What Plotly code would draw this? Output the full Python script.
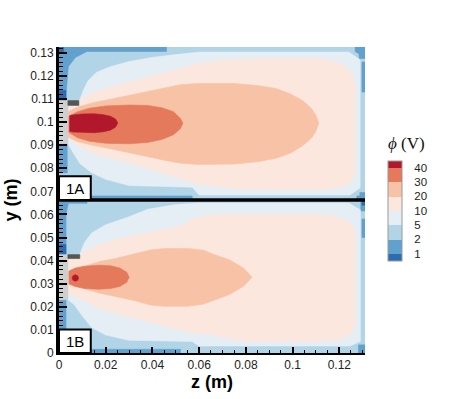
import plotly.graph_objects as go

# ---------------- data ----------------
LEVEL_LABELS = ["1", "2", "5", "10", "20", "30", "40"]
LEVEL_COLORS = ["#2a6db0", "#62a0cd", "#b2d4e7", "#e5eef5",
                "#fbe7dd", "#f8c2a6", "#e4795b", "#b2182b"]

X_TICKS = [0, 0.02, 0.04, 0.06, 0.08, 0.1, 0.12]
X_TICK_LABELS = ["0", "0.02", "0.04", "0.06", "0.08", "0.1", "0.12"]
Y_TICKS = [0, 0.01, 0.02, 0.03, 0.04, 0.05, 0.06, 0.07, 0.08, 0.09, 0.1, 0.11, 0.12, 0.13]
Y_TICK_LABELS = ["0", "0.01", "0.02", "0.03", "0.04", "0.05", "0.06", "0.07",
                 "0.08", "0.09", "0.1", "0.11", "0.12", "0.13"]

Z_MAX = 0.131
Y_MAX = 0.1325
PANEL_SPLIT = 0.0663

# ---- panel 1A : contour regions (z, y) ----
A_PHI_LT2 = [  # medium blue patches (1-2 V)
    [(0, 0.1325), (0.046, 0.1325), (0.046, 0.1306), (0.012, 0.1306), (0.007, 0.128),
     (0.004, 0.124), (0.003, 0.112), (0.003, 0.1093), (0, 0.1093)],
    [(0, 0.0906), (0.0035, 0.0906), (0.0035, 0.078), (0, 0.078)],
    [(0, 0.0663), (0.057, 0.0663), (0.057, 0.068), (0, 0.068)],
    [(0.1268, 0.1325), (0.131, 0.1325), (0.131, 0.1275), (0.1285, 0.1275), (0.1285, 0.1295), (0.1268, 0.1305)],
    [(0.1297, 0.126), (0.131, 0.126), (0.131, 0.113), (0.1297, 0.113)],
    [(0.1275, 0.0663), (0.131, 0.0663), (0.131, 0.0695), (0.1288, 0.0695), (0.1288, 0.068), (0.1275, 0.068)],
]
A_PHI_LT1 = [  # dark blue patches (<1 V)
    [(0, 0.1093), (0.003, 0.1093), (0.003, 0.1137), (0, 0.1137)],
    [(0, 0.1325), (0.002, 0.1325), (0.002, 0.1305), (0, 0.1305)],
    [(0.0085, 0.1072), (0.0095, 0.1072), (0.0095, 0.1093), (0.0085, 0.1093)],
]
A_PHI_GE5 = [(0.0038, 0.0906), (0.0038, 0.1072), (0.0085, 0.1072), (0.0088, 0.1093), (0.0105, 0.114),
             (0.0125, 0.118), (0.016, 0.1215), (0.022, 0.124), (0.03, 0.1262), (0.04, 0.128),
             (0.05, 0.1292), (0.06, 0.1303), (0.124, 0.1303), (0.1289, 0.127), (0.1289, 0.0715),
             (0.1245, 0.0684), (0.06, 0.0684), (0.057, 0.0718), (0.03, 0.0725), (0.02, 0.0752),
             (0.014, 0.078), (0.009, 0.082), (0.0065, 0.086)]
A_PHI_GE10 = [(0.0038, 0.094), (0.0038, 0.1055), (0.006, 0.108), (0.0096, 0.110), (0.0153, 0.113),
              (0.0267, 0.1166), (0.041, 0.1202), (0.0516, 0.123), (0.06, 0.1255), (0.075, 0.1272),
              (0.095, 0.1276), (0.11, 0.1275), (0.117, 0.1265), (0.122, 0.1245), (0.1255, 0.121),
              (0.1267, 0.116), (0.1267, 0.078), (0.1255, 0.0745), (0.122, 0.0722), (0.117, 0.0712),
              (0.11, 0.0708), (0.095, 0.0708), (0.075, 0.0712), (0.06, 0.073), (0.0516, 0.0755),
              (0.041, 0.079), (0.0267, 0.0833), (0.0153, 0.0862), (0.0096, 0.0891), (0.006, 0.0915)]
A_PHI_GE20 = [(0.0038, 0.0935), (0.0038, 0.1045), (0.008, 0.1065), (0.015, 0.1085), (0.025, 0.1105),
              (0.035, 0.1125), (0.045, 0.1148), (0.052, 0.1162), (0.06, 0.1167), (0.075, 0.1167),
              (0.085, 0.1158), (0.093, 0.1145), (0.099, 0.1122), (0.104, 0.1095), (0.108, 0.106),
              (0.110, 0.103), (0.1112, 0.0995), (0.110, 0.096), (0.108, 0.093), (0.104, 0.0895),
              (0.099, 0.0865), (0.093, 0.0843), (0.085, 0.0828), (0.075, 0.0818), (0.06, 0.0816),
              (0.052, 0.0822), (0.045, 0.0835), (0.035, 0.0858), (0.025, 0.0878), (0.015, 0.0898),
              (0.008, 0.0915)]
A_PHI_GE30 = [(0.0042, 0.0955), (0.0042, 0.1025), (0.008, 0.1045), (0.013, 0.106), (0.02, 0.107),
              (0.03, 0.1074), (0.038, 0.1072), (0.044, 0.1062), (0.049, 0.1045), (0.052, 0.1015),
              (0.053, 0.0995), (0.052, 0.0972), (0.049, 0.0945), (0.044, 0.0925), (0.038, 0.0912),
              (0.03, 0.0906), (0.02, 0.0908), (0.013, 0.0917), (0.008, 0.0932)]
A_PHI_GE40 = [(0.0046, 0.0960), (0.0046, 0.1028), (0.006, 0.1031), (0.01, 0.1035), (0.015, 0.1036),
              (0.019, 0.1032), (0.022, 0.1025), (0.0242, 0.1013), (0.0252, 0.0996), (0.0242, 0.0978),
              (0.022, 0.0965), (0.019, 0.0958), (0.015, 0.0954), (0.01, 0.0954), (0.006, 0.0957)]
A_ELECTRODE = [(0, 0.0906), (0.0038, 0.0906), (0.0038, 0.1093), (0, 0.1093)]
A_BAR = [(0.0038, 0.1072), (0.0085, 0.1072), (0.0085, 0.1093), (0.0038, 0.1093)]

# ---- panel 1B : contour regions (z, y) ----
B_PHI_LT2 = [
    [(0, 0.0663), (0.012, 0.0663), (0.012, 0.0648), (0.004, 0.0648), (0.003, 0.06),
     (0.003, 0.0426), (0, 0.0426)],
    [(0, 0.0231), (0.003, 0.0231), (0.003, 0.0103), (0, 0.0103)],
    [(0.0136, 0), (0.052, 0), (0.052, 0.0016), (0.0136, 0.0016)],
    [(0.1292, 0.0663), (0.131, 0.0663), (0.131, 0.0615), (0.1292, 0.0615)],
    [(0.1297, 0.058), (0.131, 0.058), (0.131, 0.05), (0.1297, 0.05)],
    [(0.1282, 0), (0.131, 0), (0.131, 0.0035), (0.1282, 0.0035)],
]
B_PHI_LT1 = [
    [(0, 0.0426), (0.003, 0.0426), (0.003, 0.047), (0, 0.047)],
    [(0.0089, 0.0409), (0.0098, 0.0409), (0.0098, 0.0426), (0.0089, 0.0426)],
    [(0.1297, 0.0663), (0.131, 0.0663), (0.131, 0.064), (0.1297, 0.064)],
]
B_PHI_GE5 = [(0.0038, 0.0231), (0.0038, 0.0409), (0.0089, 0.0409), (0.0092, 0.0435), (0.011, 0.048),
             (0.014, 0.052), (0.02, 0.0555), (0.03, 0.059), (0.038, 0.0622), (0.05, 0.0643),
             (0.06, 0.0649), (0.124, 0.0649), (0.129, 0.062), (0.129, 0.005), (0.1245, 0.003),
             (0.06, 0.003), (0.057, 0.005), (0.03, 0.0055), (0.02, 0.0078), (0.014, 0.011),
             (0.010, 0.016), (0.0065, 0.021)]
B_PHI_GE10 = [(0.0038, 0.0253), (0.0038, 0.0405), (0.006, 0.0412), (0.011, 0.044), (0.0167, 0.0469),
              (0.0267, 0.0498), (0.041, 0.0527), (0.0516, 0.0549), (0.058, 0.0585), (0.066, 0.0599),
              (0.08, 0.0601), (0.11, 0.0601), (0.1175, 0.0595), (0.122, 0.058), (0.1255, 0.0555),
              (0.1267, 0.052), (0.1267, 0.0125), (0.1255, 0.009), (0.122, 0.0065), (0.1175, 0.0053),
              (0.11, 0.0051), (0.08, 0.0051), (0.072, 0.0065), (0.066, 0.0079), (0.058, 0.0085),
              (0.0516, 0.0101), (0.041, 0.013), (0.0267, 0.0166), (0.0167, 0.0195), (0.011, 0.0224),
              (0.006, 0.0253)]
B_PHI_GE20 = [(0.004, 0.0295), (0.004, 0.0352), (0.0103, 0.0374), (0.0174, 0.0396), (0.0246, 0.041),
              (0.033, 0.043), (0.039, 0.0446), (0.045, 0.0452), (0.055, 0.0453), (0.062, 0.0445),
              (0.066, 0.0428), (0.073, 0.0404), (0.079, 0.0368), (0.0827, 0.0328), (0.079, 0.0289),
              (0.073, 0.0253), (0.066, 0.0228), (0.062, 0.0212), (0.055, 0.0202), (0.045, 0.0202),
              (0.039, 0.0208), (0.033, 0.0225), (0.0246, 0.0244), (0.0174, 0.0259), (0.0103, 0.028)]
B_PHI_GE30 = [(0.0043, 0.030), (0.0043, 0.0355), (0.007, 0.0368), (0.011, 0.0376), (0.017, 0.038),
              (0.022, 0.0378), (0.026, 0.0368), (0.029, 0.035), (0.030, 0.0328), (0.029, 0.0306),
              (0.026, 0.0288), (0.022, 0.0279), (0.017, 0.0276), (0.011, 0.0279), (0.007, 0.0288)]
B_PHI_GE40 = [(0.0056, 0.0325), (0.006, 0.0335), (0.007, 0.0339), (0.008, 0.0335), (0.0084, 0.0325),
              (0.008, 0.0315), (0.007, 0.0311), (0.006, 0.0315)]
B_ELECTRODE = [(0, 0.0231), (0.0038, 0.0231), (0.0038, 0.0426), (0, 0.0426)]
B_BAR = [(0.0038, 0.0409), (0.0089, 0.0409), (0.0089, 0.0426), (0.0038, 0.0426)]

PANEL_LABELS = ["1A", "1B"]
LABEL_BOX_W = 0.0136
LABEL_BOX_H = 0.0102

ELECTRODE_COLOR = "#cfcfcf"
BAR_COLOR = "#555555"

# ---------------- figure ----------------
fig = go.Figure()


def add_poly(pts, color):
    zs = [p[0] for p in pts] + [pts[0][0]]
    ys = [p[1] for p in pts] + [pts[0][1]]
    fig.add_trace(go.Scatter(x=zs, y=ys, mode="lines", fill="toself", fillcolor=color,
                             line=dict(width=0.6, color=color), hoverinfo="skip",
                             showlegend=False))


for lt2, lt1, ge5, ge10, ge20, ge30, ge40, elec, bar in [
        (A_PHI_LT2, A_PHI_LT1, A_PHI_GE5, A_PHI_GE10, A_PHI_GE20, A_PHI_GE30, A_PHI_GE40, A_ELECTRODE, A_BAR),
        (B_PHI_LT2, B_PHI_LT1, B_PHI_GE5, B_PHI_GE10, B_PHI_GE20, B_PHI_GE30, B_PHI_GE40, B_ELECTRODE, B_BAR)]:
    for p in lt2:
        add_poly(p, LEVEL_COLORS[1])
    for p in lt1:
        add_poly(p, LEVEL_COLORS[0])
    add_poly(ge5, LEVEL_COLORS[3])
    add_poly(ge10, LEVEL_COLORS[4])
    add_poly(ge20, LEVEL_COLORS[5])
    add_poly(ge30, LEVEL_COLORS[6])
    add_poly(ge40, LEVEL_COLORS[7])
    add_poly(elec, ELECTRODE_COLOR)
    add_poly(bar, BAR_COLOR)

# discrete colour bar
n = len(LEVEL_COLORS)
edges = [0] + [(i + 0.5) / (n - 1) for i in range(n - 1)] + [1]
cscale = []
for i, c in enumerate(LEVEL_COLORS):
    cscale.append([edges[i], c])
    cscale.append([edges[i + 1], c])

CB_X, CB_Y, CB_THICK, CB_LEN = 1.075, 0.465, 14, 100
PLOT_W = 449 - 59 - 84
PLOT_H = 399 - 47 - 46

fig.add_trace(go.Scatter(
    x=[1, 1], y=[1, 1], mode="markers", hoverinfo="skip", showlegend=False,
    marker=dict(size=1, color=[0, n - 1], cmin=0, cmax=n - 1, colorscale=cscale,
                showscale=True,
                colorbar=dict(x=CB_X, xanchor="left", y=CB_Y, yanchor="middle",
                              thickness=CB_THICK, lenmode="pixels", len=CB_LEN, ypad=0, xpad=0,
                              outlinewidth=1, outlinecolor="#9a9a9a",
                              tickmode="array", tickvals=[i + 0.5 for i in range(n - 1)],
                              ticktext=LEVEL_LABELS, ticks="outside", ticklen=10,
                              tickcolor="rgba(0,0,0,0)",
                              tickfont=dict(family="Liberation Sans", size=11.5, color="#222")))))

# colour bar title
fig.add_annotation(x=1.135, y=0.686, xref="paper", yref="paper", showarrow=False,
                   text="<i>ϕ</i> (V)", font=dict(family="Liberation Serif", size=17, color="#111"),
                   xanchor="center", yanchor="middle")

shapes = [dict(type="line", xref="x", yref="y", x0=0, x1=Z_MAX, y0=PANEL_SPLIT, y1=PANEL_SPLIT,
               line=dict(color="black", width=3.5), layer="above")]
# thin separators between colour-bar blocks
cb_bottom = CB_Y - CB_LEN / 2 / PLOT_H
for i in range(n - 1):
    yy = cb_bottom + (i + 0.5) / (n - 1) * CB_LEN / PLOT_H
    shapes.append(dict(type="line", xref="paper", yref="paper", x0=CB_X,
                       x1=CB_X + CB_THICK / PLOT_W, y0=yy, y1=yy,
                       line=dict(color="#a8a8a8", width=1), layer="above"))
for lab, y0 in zip(PANEL_LABELS, [PANEL_SPLIT, 0]):
    shapes.append(dict(type="rect", xref="x", yref="y", x0=0, x1=LABEL_BOX_W, y0=y0,
                       y1=y0 + LABEL_BOX_H, fillcolor="white",
                       line=dict(color="black", width=2), layer="above"))
    fig.add_annotation(x=LABEL_BOX_W / 2, y=y0 + LABEL_BOX_H / 2, xref="x", yref="y",
                       text=lab, showarrow=False, xanchor="center", yanchor="middle",
                       font=dict(family="Liberation Sans", size=15, color="black"))

fig.update_layout(
    width=449, height=399,
    margin=dict(l=59, r=84, t=47, b=46, autoexpand=False),
    paper_bgcolor="white", plot_bgcolor=LEVEL_COLORS[2],
    shapes=shapes,
    xaxis=dict(range=[0, Z_MAX], tickmode="array", tickvals=X_TICKS, ticktext=X_TICK_LABELS,
               automargin=False,
               ticks="inside", ticklen=6, tickwidth=1.5, tickcolor="black",
               minor=dict(ticks="inside", ticklen=3, dtick=0.005, tick0=0, tickcolor="black", tickwidth=1),
               showline=True, linecolor="black", linewidth=2, showgrid=False, zeroline=False,
               tickfont=dict(family="Liberation Sans", size=12, color="#222"),
               title=dict(text="<b>z (m)</b>", standoff=2,
                          font=dict(family="Liberation Sans", size=18, color="black"))),
    yaxis=dict(range=[0, Y_MAX], tickmode="array", tickvals=Y_TICKS, ticktext=Y_TICK_LABELS,
               automargin=False,
               ticks="inside", ticklen=8, tickwidth=1.5, tickcolor="black",
               minor=dict(ticks="inside", ticklen=4, dtick=0.002, tick0=0, tickcolor="black", tickwidth=1),
               showline=True, linecolor="black", linewidth=3, showgrid=False, zeroline=False,
               tickfont=dict(family="Liberation Sans", size=12, color="#222"),
               title=dict(text="<b>y (m)</b>", standoff=8,
                          font=dict(family="Liberation Sans", size=18, color="black"))),
)

fig.write_html("out.html", config={"displayModeBar": False},
               post_script="document.body.style.margin='0px';")
